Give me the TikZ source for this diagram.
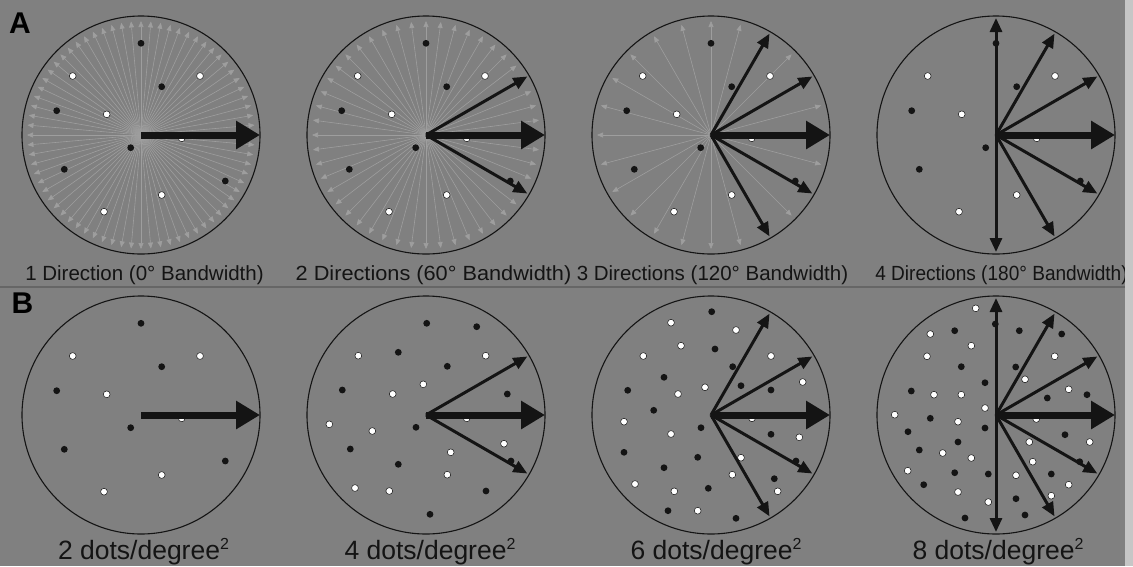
\documentclass[tikz,border=0pt]{standalone}
\usepackage{fontspec}
\usepackage{graphicx}
\setmainfont{Liberation Sans}
\usetikzlibrary{arrows.meta}

\definecolor{panelgray}{HTML}{808080}
\definecolor{spokegray}{HTML}{9E9E9E}
\definecolor{inkblack}{HTML}{141414}

\newcommand{\sqdeg}{\raisebox{10pt}{\fontsize{16}{16}\selectfont 2}}

\begin{document}
\begin{tikzpicture}[x=1pt, y=-1pt,
            rim/.style={draw=inkblack, line width=1.1pt},
            spoke/.style={draw=spokegray, line width=0.6pt, -{Triangle[length=6pt, width=5pt]}},
            side dir/.style={draw=inkblack, line width=3pt, -{Triangle[length=14pt, width=12pt]}},
            main dir/.style={draw=inkblack, line width=7pt, -{Triangle[length=24pt, width=27pt]}},
            dark dot/.style={fill=inkblack},
            light dot/.style={fill=white, draw=inkblack, line width=0.5pt},
            caption/.style={font=\fontsize{20.5}{24}\selectfont, text=inkblack, anchor=base, inner sep=0pt},
            density/.style={font=\fontsize{26.5}{30}\selectfont, text=inkblack, anchor=base, inner sep=0pt},
            panel tag/.style={font=\fontsize{30}{32}\selectfont\bfseries, text=black, anchor=base west, inner sep=0pt}
            ]

            \pgfmathsetmacro{\Rad}{119}
            \pgfmathsetmacro{\rdot}{3.4}

            \useasboundingbox (0,0) rectangle (1133,566);
            \fill[panelgray] (0,0) rectangle (1133,566);

            \foreach \i in {1,...,4} {
                \pgfmathsetmacro{\cx}{141+285*(\i-1)}
                \coordinate (a\i) at (\cx,135);
                \coordinate (b\i) at (\cx,415);
            }

            % faint spokes, row A
            \foreach \i/\st in {1/5, 2/7.5, 3/15} {
                \foreach \a in {0,\st,...,359} {
                    \draw[spoke] (a\i) -- ++(\a:114);
                }
            }

            \foreach \i in {1,...,4} {
                \draw[rim] (a\i) circle (\Rad);
                \draw[rim] (b\i) circle (\Rad);
            }

            \def\fewdark{0/-91.7, 20.7/-48.3, -84.3/-24.3, -10.3/12.7, -76.7/34.3, 84.3/46}
            \def\fewlight{-68.3/-59, 59/-59, -34.3/-20.7, 40.7/3.3, 20.7/60, -37/76.7}
            \foreach \p in {a1,a2,a3,a4,b1} {
                \begin{scope}[shift={(\p)}]
                    \foreach \x/\y in \fewdark {\fill[dark dot] (\x,\y) circle (\rdot);}
                    \foreach \x/\y in \fewlight {\filldraw[light dot] (\x,\y) circle (\rdot);}
                \end{scope}
            }

            \foreach \p/\dk/\lt in {
                b2/{0.7/-91.7, 50.7/-88.3, -27.7/-62.7, 21.3/-48.7, -83.7/-25, 81.3/-21, -10/12.3, -75.7/34, 85/46, -27.7/49.3, 60/76, 4/99.3}/{-67.7/-59.3, 59.7/-59.3, -2.7/-30.7, -33.3/-21, -96.7/9.3, -53.7/16, 40.7/3.3, 78/28.7, 24.7/37.3, 21.3/59.7, -71/73, -36.7/76},
                b3/{0.7/-103.3, 4/-66, 21.7/-48.3, -47/-37.7, 30/-29.3, 60/-25, -83.3/-24.7, -57.3/-4.7, -10/12.7, 60/19.3, -87/37.3, -13.3/42.3, 85/46, -47/52.7, 63.3/63.7, -2.7/73.3, -43/95.7, 25/103.3}/{-40/-92.3, 25/-85, -30/-69.3, -67.7/-59, 60/-59, 91.7/-33, -6/-27.7, -33/-21, -87/6.7, 41/3.3, -40/19, 88.3/22.3, 30/42.7, 21.3/59.7, -76/69, -36.7/76.3, 66.7/76.3, -13.3/95.7},
                b4/{-0.7/-91, -41.3/-84.3, 23.3/-84.3, 65.7/-81, -34.7/-48.3, 19.7/-48, -11/-32.3, -84.7/-24, 91/-20.3, 51.3/-17, -65.7/3.3, -11/13, -88/16.7, 69/19.7, -38/27, -76.7/35, 83.7/46.7, -41.3/57.7, -7.7/59, 55.3/59, -72.3/69.7, 20/83.7, 29/100, -31/103}/{-20.3/-106.7, -65.7/-81, -24.7/-69.3, -69/-58.7, 58.7/-58.7, 29/-35.7, -62/-20.3, -34.7/-20.3, 72.7/-25.7, -11/-7, -101.3/-0.3, -38/6.7, 40.3/4, 93.7/27, 33.3/27, -53.3/38, -24.7/43, 36.7/46.7, -88.3/55.7, 20/60.3, 72.7/69.7, -38/77, 55.3/80.7, -7.7/87}} {
                \begin{scope}[shift={(\p)}]
                    \foreach \x/\y in \dk {\fill[dark dot] (\x,\y) circle (\rdot);}
                    \foreach \x/\y in \lt {\filldraw[light dot] (\x,\y) circle (\rdot);}
                \end{scope}
            }

            % direction arrows
            \foreach \i in {2,3,4} {
                \foreach \k in {2,...,\i} {
                    \pgfmathsetmacro{\a}{30*(\k-1)}
                    \foreach \p in {a,b} {
                        \draw[side dir] (\p\i) -- ++(\a:117);
                        \draw[side dir] (\p\i) -- ++(-\a:117);
                    }
                }
            }
            \foreach \p in {a,b} {
                \foreach \i in {1,...,4} {
                    \draw[main dir] (\p\i) -- ++(\Rad,0);
                }
            }

            \draw[draw=panelgray!80!black, line width=1.5pt] (0,287) -- (1125,287);

            \node[panel tag] (tagA) at (9,33) {A};
            \node[panel tag] (tagB) at (11.5,313) {B};

            \node[caption] (capA1) at (144.5,280) {1 Direction (0° Bandwidth)};
            \node[caption] (capA2) at (433.5,280) {\scalebox{1.06}[1]{2 Directions (60° Bandwidth)}};
            \node[caption] (capA3) at (712.5,280) {3 Directions (120° Bandwidth)};
            \node[caption] (capA4) at (1001.5,280) {\scalebox{0.93}[1]{4 Directions (180° Bandwidth)}};

            \foreach \i/\n/\lx in {1/2/143.5, 2/4/430, 3/6/716, 4/8/998} {
                \node[density] (capB\i) at (\lx,559) {\n\ dots/degree\sqdeg};
            }

            \fill[white!55!panelgray] (1125,0) rectangle (1133,566);

        \end{tikzpicture}
\end{document}
